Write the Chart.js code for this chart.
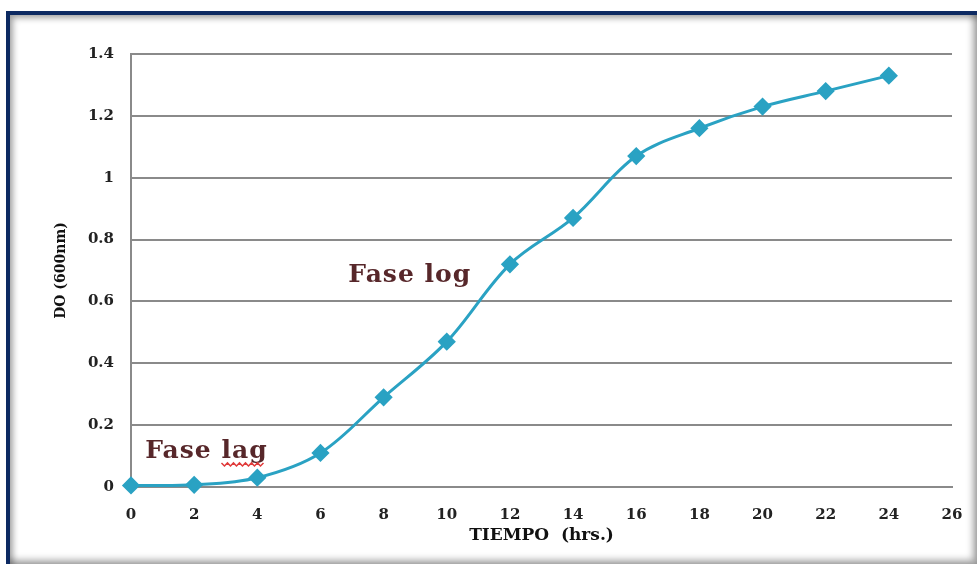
<!DOCTYPE html>
<html>
<head>
<meta charset="utf-8">
<script src="https://cdn.jsdelivr.net/npm/chart.js@4/dist/chart.umd.min.js"></script>
<style>
  html, body { margin: 0; padding: 0; background: #fff; overflow: hidden; }
  .frame {
    position: absolute; left: 6px; top: 11px; width: 975px; height: 557px;
    border: 4px solid #0d2a62; box-sizing: border-box; background: #fff;
    box-shadow: inset 3px 3px 6px rgba(0,0,0,0.35), inset -4px -4px 7px rgba(0,0,0,0.35);
  }
  #chart { position: absolute; left: 0; top: 0; }
</style>
</head>
<body>
<div class="frame"></div>
<canvas id="chart" width="977" height="564"></canvas>
<script>
// horas vs densidad optica
const hours = [0, 2, 4, 6, 8, 10, 12, 14, 16, 18, 20, 22, 24];
const od600 = [0.005, 0.007, 0.03, 0.11, 0.29, 0.47, 0.72, 0.87, 1.07, 1.16, 1.23, 1.28, 1.33];
const xTickLabels = ["0","2","4","6","8","10","12","14","16","18","20","22","24","26"];
const yTickLabels = ["0","0.2","0.4","0.6","0.8","1","1.2","1.4"];
const phaseLabels = ["Fase lag", "Fase log"];

const FONT = "'DejaVu Serif', 'Liberation Serif', serif";
const LINE = "#2aa2c3";

// text labels for growth phases, drawn in data coords
const phasePlugin = {
  id: "phases",
  afterDatasetsDraw(chart){
    const ctx = chart.ctx;
    const xs = chart.scales.x, ys = chart.scales.y;
    const spots = [[0.45, 0.094], [6.88, 0.663]];
    ctx.save();
    ctx.font = "bold 25px " + FONT;
    ctx.letterSpacing = "1px";
    ctx.fillStyle = "#57272a";
    ctx.textBaseline = "alphabetic";
    phaseLabels.forEach((t, i) => {
      const px = xs.getPixelForValue(spots[i][0]);
      const py = ys.getPixelForValue(spots[i][1]);
      ctx.fillText(t, px, py);
      if(i === 0){
        // red wavy underline under "lag"
        const x0 = px + ctx.measureText("Fase ").width;
        const x1 = px + ctx.measureText(t).width - 2;
        ctx.strokeStyle = "#e03a3a";
        ctx.lineWidth = 1.5;
        ctx.beginPath();
        let up = true;
        for(let x = x0; x <= x1; x += 3){
          const y = py + 5 + (up ? 0 : 3);
          if(x === x0) ctx.moveTo(x, y); else ctx.lineTo(x, y);
          up = !up;
        }
        ctx.stroke();
      }
    });
    ctx.restore();
  }
};

new Chart(document.getElementById("chart"), {
  type: "line",
  data: {
    datasets: [{
      data: hours.map((h, i) => ({x: h, y: od600[i]})),
      borderColor: LINE,
      backgroundColor: LINE,
      borderWidth: 3,
      pointStyle: "rectRot",
      pointRadius: 7,
      pointHoverRadius: 7,
      pointBackgroundColor: LINE,
      pointBorderColor: LINE,
      tension: 0.35,
      clip: false,
      fill: false
    }]
  },
  options: {
    responsive: false,
    animation: false,
    devicePixelRatio: 1,
    layout: { padding: { left: 50, right: 25, top: 54, bottom: 10 } },
    plugins: { legend: { display: false }, tooltip: { enabled: false } },
    scales: {
      x: {
        type: "linear", min: 0, max: 26,
        afterFit: (s) => { s.height = 67; },
        grid: { display: false },
        border: { display: true, color: "#8a8a8a", width: 2 },
        ticks: {
          stepSize: 2, padding: 11, color: "#222",
          font: { family: FONT, size: 15, weight: "bold" },
          callback: (v) => xTickLabels[v / 2]
        },
        title: {
          display: true, text: "TIEMPO  (hrs.)", color: "#111",
          font: { family: FONT, size: 17, weight: "bold" },
          padding: { top: 8, bottom: 8 }
        }
      },
      y: {
        min: 0, max: 1.4,
        afterFit: (s) => { s.width = 81; },
        grid: { color: "#8a8a8a", lineWidth: 2, drawTicks: false },
        border: { display: true, color: "#8a8a8a", width: 2 },
        ticks: {
          stepSize: 0.2, padding: 17, color: "#222",
          font: { family: FONT, size: 15, weight: "bold" },
          callback: (v) => yTickLabels[Math.round(v / 0.2)]
        },
        title: {
          display: true, text: "DO (600nm)", color: "#111",
          font: { family: FONT, size: 14, weight: "bold" },
          padding: { top: 3, bottom: 0 }
        }
      }
    }
  },
  plugins: [phasePlugin]
});
</script>
</body>
</html>
